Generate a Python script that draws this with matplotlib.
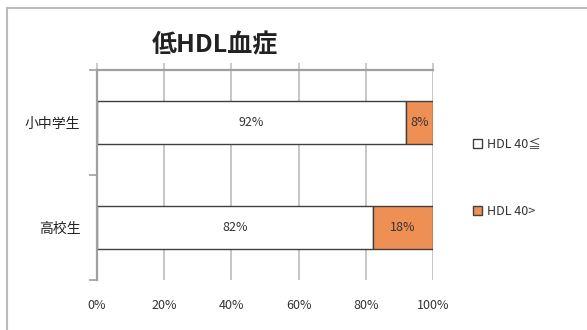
import matplotlib.pyplot as plt
from matplotlib.patches import Rectangle

plt.rcParams['font.family'] = ['Noto Sans CJK JP', 'DejaVu Sans']

# Data
groups = ["小中学生", "高校生"]
normal = [92, 82]
low = [8, 18]
series_names = ["HDL 40≦", "HDL 40>"]
ticks = [0, 20, 40, 60, 80, 100]

ORANGE = "#EE8F53"
EDGE = "#404040"
GRID = "#c2c2c2"
AXIS = "#a0a0a0"

fig = plt.figure(figsize=(5.87, 3.30), dpi=100)
ax = fig.add_axes([97/587, 1 - 280/330, 336/587, 210/330])

y = range(len(groups))
ax.barh(y, normal, height=0.41, color="white", edgecolor=EDGE, linewidth=1.0, zorder=2)
ax.barh(y, low, left=normal, height=0.41, color=ORANGE, edgecolor=EDGE, linewidth=1.0, zorder=2)

for i in y:
    ax.text(normal[i] / 2, i, f"{normal[i]}%", ha="center", va="center", fontsize=9, color="#333333")
    ax.text(normal[i] + low[i] / 2, i, f"{low[i]}%", ha="center", va="center", fontsize=9, color="#333333")

ax.set_xlim(0, 100)
ax.set_ylim(1.5, -0.5)

# value grid
for t in ticks[1:]:
    ax.axvline(t, color=GRID, linewidth=1.3, zorder=0)

ax.set_xticks(ticks)
ax.set_xticklabels([f"{t}%" for t in ticks], fontsize=9, color="#333333")
ax.tick_params(axis="x", top=True, bottom=False, labeltop=False, labelbottom=True,
               direction="out", length=5, width=1.2, color=GRID, pad=9)

ax.set_yticks([-0.5, 0.5, 1.5])
ax.set_yticklabels([])
ax.set_yticks([0, 1], minor=True)
ax.set_yticklabels(groups, minor=True, fontsize=10, color="#222222")
ax.tick_params(axis="y", which="major", length=6, width=1.2, color=AXIS)
ax.tick_params(axis="y", which="minor", length=0, pad=12)

for side in ["right", "bottom"]:
    ax.spines[side].set_visible(False)
for side in ["top", "left"]:
    ax.spines[side].set_color(AXIS)
    ax.spines[side].set_linewidth(1.6)

fig.text(215/587, 1 - 45/330, "低HDL血症", ha="center", va="center",
         fontsize=18, fontweight="bold", color="#222222")

# legend
handles = [Rectangle((0, 0), 1, 1, facecolor=c, edgecolor=EDGE, linewidth=1.0)
           for c in ["white", ORANGE]]
fig.legend(handles, series_names, loc="center left", bbox_to_anchor=(462/587, 1 - 178/330),
           frameon=False, fontsize=9, handlelength=0.7, handleheight=0.7,
           handletextpad=0.4, labelspacing=4.3, labelcolor="#333333")

# chart border
fig.patches.append(Rectangle((7/587, -0.1), 1.0, 1 - 8/330 + 0.1, transform=fig.transFigure,
                             fill=False, edgecolor="#bbbbbb", linewidth=1.5))

fig.savefig("out.png", dpi=100)
